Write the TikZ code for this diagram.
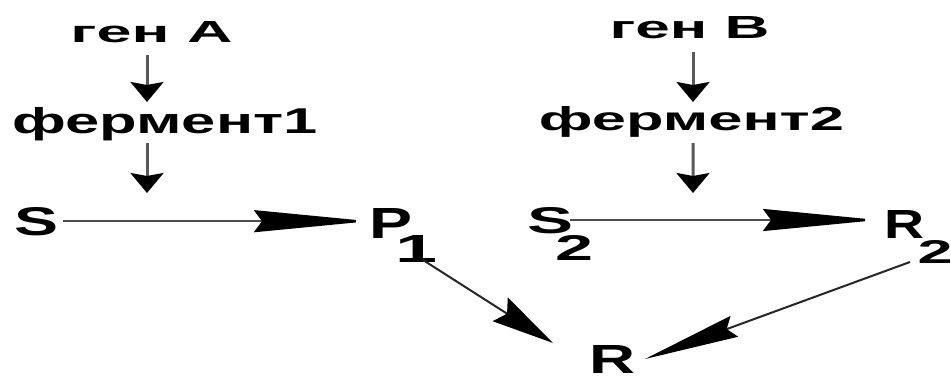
\documentclass[tikz,border=0pt]{standalone}
\usepackage{fontspec}
\setmainfont{Liberation Sans}
\usetikzlibrary{arrows.meta,calc}
\newlength\upx \setlength\upx{0.02cm}
\newcommand\stxt[3]{\resizebox{#1\upx}{#2\upx}{\bfseries #3}}
\tikzset{
  lbl/.style={inner sep=0pt, outer sep=0pt, anchor=base},
  lblw/.style={inner sep=0pt, outer sep=0pt, anchor=base west},
  hline/.style={line width=0.05cm, draw=black!70, -{Stealth[length=2.3cm,width=0.44cm,inset=0.16cm,black]}},
  vline/.style={line width=0.06cm, draw=black!65, -{Stealth[length=0.4cm,width=0.66cm,inset=0.06cm,black]}},
  dline1/.style={line width=0.04cm, draw=black!85, -{Stealth[length=1.25cm,width=0.56cm,inset=0.16cm,black]}},
  dline2/.style={line width=0.04cm, draw=black!85, -{Stealth[length=1.9cm,width=0.44cm,inset=0.16cm,black]}}
}
\begin{document}
\begin{tikzpicture}[x=0.02cm, y=-0.02cm]
\useasboundingbox[fill=white] (0,0) rectangle (951,379);
% labels
\node[lbl] (gA) at (151.5,42) {\stxt{162}{21}{ген А}};
\node[lbl] (gB) at (689.5,38) {\stxt{160}{22}{ген В}};
\node[lbl] (f1) at (165,133) {\stxt{305}{26}{фермент1}};
\node[lbl] (f2) at (691.5,130) {\stxt{305}{24}{фермент2}};
\node[lbl] (S) at (36,235) {\stxt{44}{28}{S}};
\node[lblw] (P) at (369,238) {\stxt{43}{30}{P}\kern-17\upx\raisebox{-24\upx}{\stxt{42}{27}{1}}};
\node[lblw] (S2) at (527,233) {\stxt{46}{26}{S}\kern-18\upx\raisebox{-27\upx}{\stxt{38}{25}{2}}};
\node[lblw] (R2) at (884.5,238) {\stxt{40}{28}{R}\kern-7\upx\raisebox{-25\upx}{\stxt{35}{23}{2}}};
\node[lbl] (R) at (612,373) {\stxt{46}{28}{R}};
% enzyme arrows
\coordinate (e1) at (147,193);
\coordinate (e2) at (693,193);
\draw[vline] ($(gA.south)+(-4.5,13)$) -- ($(f1.north)+(-18,-5)$);
\draw[vline] ($(f1.base)+(-18,10)$) -- (e1);
\draw[vline] ($(gB.south)+(3.5,14)$) -- ($(f2.north)+(1.5,-4)$);
\draw[vline] ($(f2.base)+(1.5,13)$) -- (e2);
% reactions
\draw[hline, shorten <=0.1cm] (S.east) -- (S.east -| P.base west);
\draw[hline] ($(S2.base west)+(43,-13)$) -- ($(R2.base west)+(-6.5,-18)$);
\draw[dline1] ($(P.base west)+(54,22)$) -- ($(R.base)+(-59,-30)$);
\draw[dline2] ($(R2.base west)+(25.5,24)$) -- ($(R.base)+(33,-14)$);
\end{tikzpicture}
\end{document}
